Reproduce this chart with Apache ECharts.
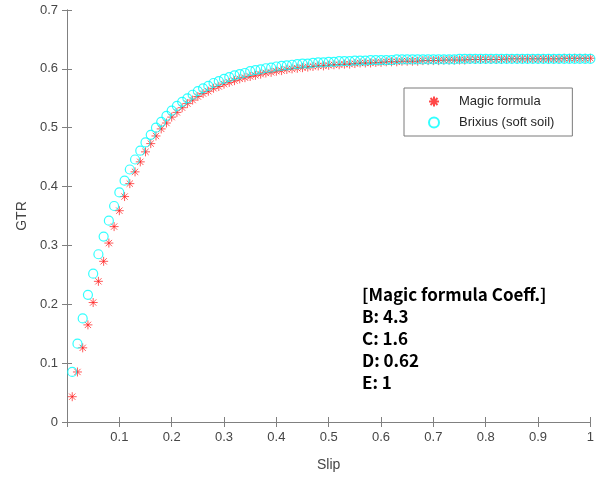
<!DOCTYPE html>
<html>
<head>
<meta charset="utf-8">
<script src="https://cdn.jsdelivr.net/npm/echarts@6/dist/echarts.min.js"></script>
<style>
  html, body { margin: 0; padding: 0; background: #fff; }
  #main { width: 597px; height: 477px; }
</style>
</head>
<body>
<div id="main"></div>
<script>
// slip values (x)
var slip = [
  0.01, 0.02, 0.03, 0.04, 0.05, 0.06, 0.07, 0.08, 0.09, 0.10,
  0.11, 0.12, 0.13, 0.14, 0.15, 0.16, 0.17, 0.18, 0.19, 0.20,
  0.21, 0.22, 0.23, 0.24, 0.25, 0.26, 0.27, 0.28, 0.29, 0.30,
  0.31, 0.32, 0.33, 0.34, 0.35, 0.36, 0.37, 0.38, 0.39, 0.40,
  0.41, 0.42, 0.43, 0.44, 0.45, 0.46, 0.47, 0.48, 0.49, 0.50,
  0.51, 0.52, 0.53, 0.54, 0.55, 0.56, 0.57, 0.58, 0.59, 0.60,
  0.61, 0.62, 0.63, 0.64, 0.65, 0.66, 0.67, 0.68, 0.69, 0.70,
  0.71, 0.72, 0.73, 0.74, 0.75, 0.76, 0.77, 0.78, 0.79, 0.80,
  0.81, 0.82, 0.83, 0.84, 0.85, 0.86, 0.87, 0.88, 0.89, 0.90,
  0.91, 0.92, 0.93, 0.94, 0.95, 0.96, 0.97, 0.98, 0.99, 1.00
];

// GTR - magic formula (red *)
var magicGTR = [
  0.043, 0.085, 0.126, 0.165, 0.203, 0.239, 0.273, 0.304, 0.332, 0.359,
  0.383, 0.405, 0.425, 0.442, 0.459, 0.473, 0.486, 0.498, 0.508, 0.518,
  0.526, 0.534, 0.541, 0.547, 0.553, 0.558, 0.562, 0.567, 0.570, 0.574,
  0.577, 0.580, 0.583, 0.585, 0.587, 0.589, 0.591, 0.593, 0.594, 0.596,
  0.597, 0.599, 0.600, 0.601, 0.602, 0.603, 0.604, 0.605, 0.605, 0.606,
  0.607, 0.607, 0.608, 0.608, 0.609, 0.610, 0.610, 0.610, 0.611, 0.611,
  0.612, 0.612, 0.612, 0.613, 0.613, 0.613, 0.613, 0.614, 0.614, 0.614,
  0.614, 0.615, 0.615, 0.615, 0.615, 0.615, 0.616, 0.616, 0.616, 0.616,
  0.616, 0.616, 0.616, 0.617, 0.617, 0.617, 0.617, 0.617, 0.617, 0.617,
  0.617, 0.617, 0.617, 0.617, 0.618, 0.618, 0.618, 0.618, 0.618, 0.618
];

// GTR - Brixius soft soil (cyan o)
var brixiusGTR = [
  0.085, 0.133, 0.176, 0.216, 0.252, 0.285, 0.315, 0.342, 0.367, 0.390,
  0.410, 0.429, 0.446, 0.461, 0.475, 0.488, 0.500, 0.510, 0.520, 0.529,
  0.537, 0.544, 0.550, 0.556, 0.562, 0.567, 0.571, 0.576, 0.579, 0.583,
  0.586, 0.589, 0.591, 0.593, 0.596, 0.598, 0.599, 0.601, 0.602, 0.604,
  0.605, 0.606, 0.607, 0.608, 0.609, 0.609, 0.610, 0.611, 0.611, 0.612,
  0.612, 0.613, 0.613, 0.613, 0.614, 0.614, 0.614, 0.615, 0.615, 0.615,
  0.615, 0.615, 0.616, 0.616, 0.616, 0.616, 0.616, 0.616, 0.616, 0.616,
  0.616, 0.616, 0.616, 0.616, 0.617, 0.617, 0.617, 0.617, 0.617, 0.617,
  0.617, 0.617, 0.617, 0.617, 0.617, 0.617, 0.617, 0.617, 0.617, 0.617,
  0.617, 0.617, 0.617, 0.617, 0.617, 0.617, 0.617, 0.617, 0.617, 0.617
];

var seriesNames = ['Magic formula', 'Brixius (soft soil)'];
var coeffLines = ['[Magic formula Coeff.]', 'B: 4.3', 'C: 1.6', 'D: 0.62', 'E: 1'];

var axisGray = '#808080';
var labelGray = '#464646';
var asterisk = 'path://M0,5L10,5M5,0L5,10M1.5,1.5L8.5,8.5M8.5,1.5L1.5,8.5';

var chart = echarts.init(document.getElementById('main'));

// top / right edges of the box, ticks only
function frameAxis(pos) {
  return {
    type: 'value',
    position: pos,
    min: 0,
    max: pos === 'top' ? 1 : 0.7,
    interval: 0.1,
    axisLine: {show: true, lineStyle: {color: axisGray, width: 1}},
    axisTick: {show: true, inside: true, length: 5, lineStyle: {color: axisGray}},
    axisLabel: {show: false},
    splitLine: {show: false}
  };
}

var option = {
  backgroundColor: '#fff',
  animation: false,
  grid: {left: 67, right: 6, top: 10, bottom: 54},
  legend: {
    orient: 'vertical',
    left: 404,
    top: 88,
    itemWidth: 40,
    itemHeight: 10,
    itemGap: 8,
    padding: [7, 18, 7, 24],
    borderColor: '#7a7a7a',
    borderWidth: 1,
    backgroundColor: '#fff',
    textStyle: {fontFamily: 'Liberation Sans', fontSize: 13, color: '#262626'},
    data: seriesNames
  },
  xAxis: [
    {
      type: 'value',
      min: 0,
      max: 1,
      interval: 0.1,
      name: 'Slip',
      nameLocation: 'middle',
      nameGap: 36,
      nameTextStyle: {fontFamily: 'Liberation Sans', fontSize: 14, color: labelGray},
      axisLine: {show: true, onZero: false, lineStyle: {color: axisGray, width: 1}},
      axisTick: {show: true, inside: true, length: 5, lineStyle: {color: axisGray}},
      axisLabel: {
        margin: 9,
        fontFamily: 'Liberation Sans',
        fontSize: 13,
        color: labelGray,
        formatter: function (v) { return v === 0 ? '' : String(+v.toFixed(1)); }
      },
      splitLine: {show: false}
    },
    frameAxis('top')
  ],
  yAxis: [
    {
      type: 'value',
      min: 0,
      max: 0.7,
      interval: 0.1,
      name: 'GTR',
      nameLocation: 'middle',
      nameGap: 38,
      nameTextStyle: {fontFamily: 'Liberation Sans', fontSize: 14, color: labelGray},
      axisLine: {show: true, onZero: false, lineStyle: {color: axisGray, width: 1}},
      axisTick: {show: true, inside: true, length: 5, lineStyle: {color: axisGray}},
      axisLabel: {
        margin: 9,
        fontFamily: 'Liberation Sans',
        fontSize: 13,
        color: labelGray,
        formatter: function (v) { return String(+v.toFixed(1)); }
      },
      splitLine: {show: false}
    },
    frameAxis('right')
  ],
  series: [
    {
      name: seriesNames[0],
      type: 'scatter',
      symbol: asterisk,
      symbolSize: 9,
      itemStyle: {color: 'rgba(255,0,0,0)', borderColor: '#ff1a1a', borderWidth: 0.9},
      data: slip.map(function (s, i) { return [s, magicGTR[i]]; })
    },
    {
      name: seriesNames[1],
      type: 'scatter',
      symbol: 'circle',
      symbolSize: 9,
      itemStyle: {color: 'rgba(0,255,255,0)', borderColor: '#00ffff', borderWidth: 1.2},
      data: slip.map(function (s, i) { return [s, brixiusGTR[i]]; })
    }
  ],
  graphic: coeffLines.map(function (t, i) {
    return {
      type: 'text',
      left: 362,
      top: 286 + i * 22,
      style: {
        text: t,
        fill: '#000',
        font: 'bold 17px "Noto Sans CJK KR", "Liberation Sans", sans-serif'
      }
    };
  })
};

chart.setOption(option);
</script>
</body>
</html>
